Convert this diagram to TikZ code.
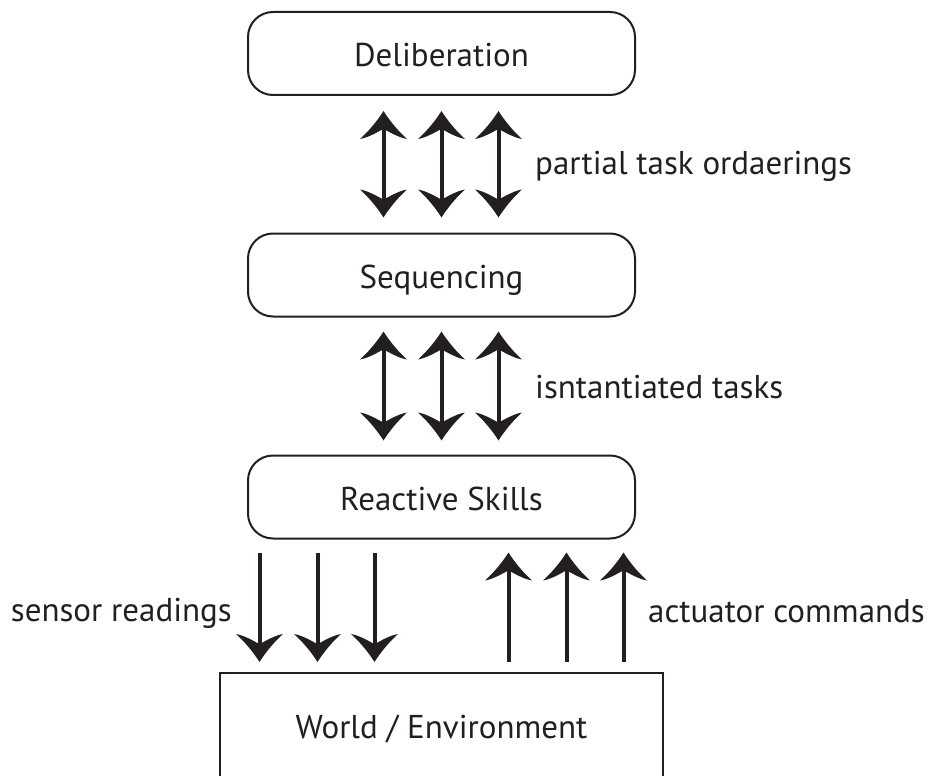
\documentclass[tikz,border=0pt]{standalone}
\usepackage{fontspec}
\setmainfont{PT Sans}
\usetikzlibrary{arrows.meta}

\definecolor{ink}{HTML}{231F20}

% Arrow head with concave flanks and swept-back barbs
\pgfdeclarearrow{
  name = Flare,
  defaults = {length = 28pt, width = 47pt},
  parameters = {\the\pgfarrowlength,\the\pgfarrowwidth},
  setup code = {
    \pgfarrowssettipend{\pgfarrowlength}
    \pgfarrowssetbackend{0pt}
    \pgfarrowssetlineend{0.45\pgfarrowlength}
    \pgfarrowssetvisualbackend{0.35\pgfarrowlength}
    \pgfarrowshullpoint{\pgfarrowlength}{0pt}
    \pgfarrowsupperhullpoint{0pt}{0.5\pgfarrowwidth}
    \pgfarrowssavethe\pgfarrowlength
    \pgfarrowssavethe\pgfarrowwidth
  },
  drawing code = {
    \pgfpathmoveto{\pgfqpoint{\pgfarrowlength}{0pt}}
    \pgfpathcurveto{\pgfqpoint{0.68\pgfarrowlength}{0.12\pgfarrowwidth}}
                   {\pgfqpoint{0.3\pgfarrowlength}{0.3\pgfarrowwidth}}
                   {\pgfqpoint{0pt}{0.5\pgfarrowwidth}}
    \pgfpathcurveto{\pgfqpoint{0.06\pgfarrowlength}{0.3\pgfarrowwidth}}
                   {\pgfqpoint{0.28\pgfarrowlength}{0.1\pgfarrowwidth}}
                   {\pgfqpoint{0.36\pgfarrowlength}{0pt}}
    \pgfpathcurveto{\pgfqpoint{0.28\pgfarrowlength}{-0.1\pgfarrowwidth}}
                   {\pgfqpoint{0.06\pgfarrowlength}{-0.3\pgfarrowwidth}}
                   {\pgfqpoint{0pt}{-0.5\pgfarrowwidth}}
    \pgfpathcurveto{\pgfqpoint{0.3\pgfarrowlength}{-0.3\pgfarrowwidth}}
                   {\pgfqpoint{0.68\pgfarrowlength}{-0.12\pgfarrowwidth}}
                   {\pgfqpoint{\pgfarrowlength}{0pt}}
    \pgfpathclose
    \pgfusepathqfill
  }
}

\begin{document}
\begin{tikzpicture}[x=1pt, y=-1pt,
  txt/.style={text=ink, font=\fontsize{33}{40}\selectfont},
  layer/.style={txt, draw=ink, line width=2pt, rounded corners=25pt,
    minimum width=387pt, minimum height=83pt, inner sep=0pt,
    text height=27pt, text depth=0pt},
  worldbox/.style={txt, draw=ink, line width=2pt,
    minimum width=443pt, minimum height=108pt, inner sep=0pt,
    text height=23pt, text depth=0pt},
  lbl/.style={txt, inner sep=0pt},
  flow/.style={draw=ink, line width=4pt, -{Flare}},
  bidir/.style={draw=ink, line width=4pt, {Flare}-{Flare}}
]
\useasboundingbox (0,0) rectangle (938,776);
\clip (0,0) rectangle (938,776);

% layers
\node[layer] (delib) at (441.5,53.5) {Deliberation};
\node[layer] (seq)   at (441.5,275)  {Sequencing};
\node[layer] (react) at (441.5,497)  {Reactive Skills};
\node[worldbox] (world) at (441.5,727) {World / Environment};

% two-way links between layers
\foreach \dx in {-58,0,57} {
  \draw[bidir, shorten <=15pt, shorten >=15pt]
    ([xshift=\dx pt]delib.south) -- ([xshift=\dx pt]seq.north);
  \draw[bidir, shorten <=14pt, shorten >=14pt]
    ([xshift=\dx pt]seq.south) -- ([xshift=\dx pt]react.north);
}

% sensing and acting
\foreach \dx in {-182,-124,-67} {
  \draw[flow, shorten <=13pt, shorten >=10pt]
    ([xshift=\dx pt]react.south) -- ([xshift=\dx pt]world.north);
}
\foreach \dx in {67,125,182} {
  \draw[flow, shorten <=10pt, shorten >=13pt]
    ([xshift=\dx pt]world.north) -- ([xshift=\dx pt]react.south);
}

% labels
\node[lbl, anchor=base west] (ordl) at (535,175) {partial task ordaerings};
\node[lbl, anchor=base west] (instl) at (535,398) {isntantiated tasks};
\node[lbl, anchor=base east] (sensl) at (232,621) {sensor readings};
\node[lbl, anchor=base west] (actl) at (648,622) {actuator commands};
\end{tikzpicture}
\end{document}
